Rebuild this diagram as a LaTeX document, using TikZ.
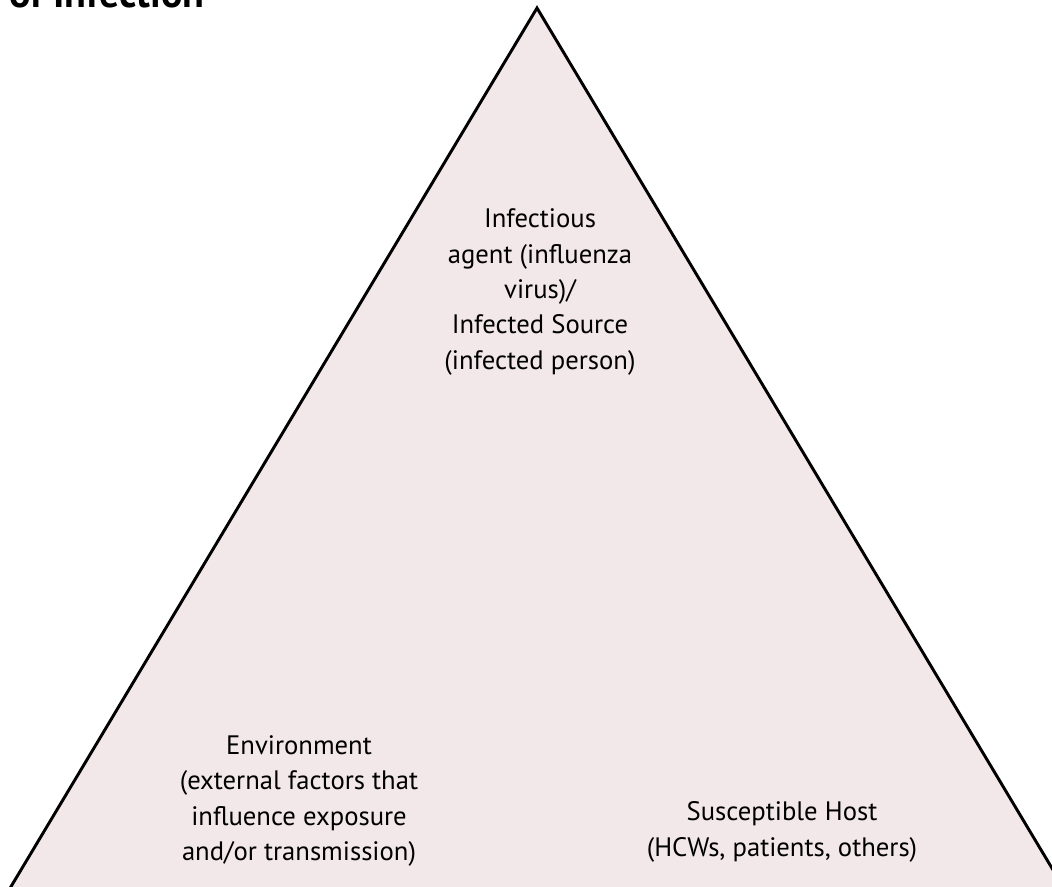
\documentclass[tikz,border=0pt]{standalone}
\usepackage{fontspec}
\setmainfont{PT Sans}
\definecolor{trifill}{RGB}{242,231,233}
\begin{document}
\begin{tikzpicture}[x=0.75pt,y=-0.75pt,inner sep=0,
	corner/.style={align=center,font=\fontsize{20}{26.5}\selectfont}]
	\useasboundingbox (0,0) rectangle (1052,886);
	\clip (0,0) rectangle (1052,886);
	\coordinate (T) at (537,8);
	\coordinate (L) at (-12,925);
	\coordinate (R) at (1086,925);
	\filldraw[fill=trifill,line width=2.2pt] (T)--(L)--(R)--cycle;
	\node[anchor=base west,font=\bfseries\fontsize{30}{36}\selectfont] (title) at (9,7) {of Infection};
	\node[corner] (agent) at (540,292) {Infectious\\agent (influenza\\virus)/\\Infected Source\\(infected person)};
	\node[corner] (env) at (299,801) {Environment\\(external factors that\\influence exposure\\and/or transmission)};
	\node[corner] (host) at (782,832) {Susceptible Host\\(HCWs, patients, others)};
\end{tikzpicture}
\end{document}
